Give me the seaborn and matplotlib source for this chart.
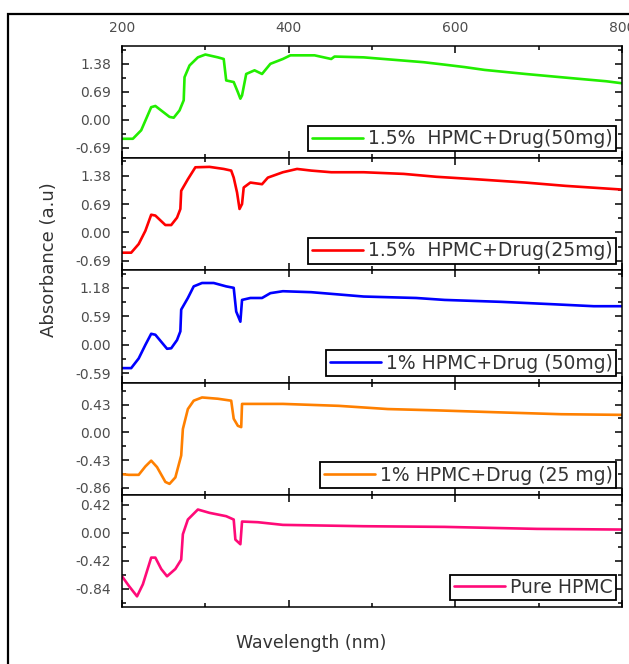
import matplotlib
matplotlib.use('Agg')
import matplotlib.pyplot as plt
import matplotlib.ticker as mticker
from matplotlib.patches import Rectangle
import pandas as pd
import seaborn as sns

# 1.5% HPMC + Drug (50 mg)
wl_a = [200, 213, 223, 235, 240, 257, 262, 269, 274, 275, 281, 291, 300, 315, 322, 325, 334, 339,
        342, 344, 349, 359, 368, 378, 393, 402, 431, 451, 455, 490, 514, 538, 562, 587, 611, 635,
        684, 732, 781, 800]
ab_a = [-0.47, -0.47, -0.26, 0.31, 0.34, 0.07, 0.05, 0.23, 0.48, 1.05, 1.34, 1.54, 1.61, 1.54, 1.50,
        0.97, 0.93, 0.68, 0.52, 0.60, 1.13, 1.22, 1.13, 1.38, 1.50, 1.59, 1.59, 1.50, 1.56, 1.54,
        1.50, 1.46, 1.42, 1.36, 1.30, 1.23, 1.13, 1.04, 0.95, 0.90]

# 1.5% HPMC + Drug (25 mg)
wl_b = [200, 211, 220, 228, 235, 240, 252, 259, 266, 270, 271, 279, 288, 305, 322, 331, 334, 338,
        341, 344, 346, 354, 368, 375, 393, 410, 427, 451, 490, 538, 577, 625, 684, 732, 800]
ab_b = [-0.49, -0.49, -0.28, 0.04, 0.43, 0.41, 0.18, 0.18, 0.36, 0.57, 1.01, 1.29, 1.58, 1.59,
        1.54, 1.50, 1.33, 0.97, 0.57, 0.69, 1.09, 1.21, 1.17, 1.33, 1.46, 1.54, 1.50, 1.46, 1.46,
        1.42, 1.35, 1.29, 1.21, 1.13, 1.04]

# 1% HPMC + Drug (50 mg)
wl_c = [200, 211, 220, 228, 235, 240, 254, 259, 266, 270, 271, 279, 286, 296, 310, 325, 334, 337,
        342, 344, 354, 368, 378, 393, 427, 490, 553, 587, 655, 718, 766, 800]
ab_c = [-0.48, -0.48, -0.28, 0.00, 0.23, 0.21, -0.08, -0.07, 0.10, 0.28, 0.73, 0.97, 1.21, 1.28,
        1.28, 1.21, 1.18, 0.69, 0.48, 0.93, 0.97, 0.97, 1.07, 1.11, 1.09, 1.00, 0.97, 0.93, 0.89,
        0.84, 0.80, 0.80]

# 1% HPMC + Drug (25 mg)
wl_d = [200, 208, 220, 228, 235, 242, 252, 257, 264, 271, 273, 279, 286, 296, 315, 331, 334, 339,
        343, 344, 393, 460, 519, 577, 650, 727, 800]
ab_d = [-0.65, -0.66, -0.66, -0.53, -0.44, -0.54, -0.77, -0.80, -0.70, -0.36, 0.05, 0.36, 0.49,
        0.54, 0.52, 0.49, 0.21, 0.10, 0.08, 0.44, 0.44, 0.41, 0.36, 0.34, 0.31, 0.28, 0.27]

# Pure HPMC
wl_e = [200, 208, 218, 225, 235, 240, 247, 254, 264, 271, 273, 279, 291, 305, 325, 334, 336, 342,
        344, 363, 393, 490, 587, 698, 800]
ab_e = [-0.65, -0.79, -0.95, -0.77, -0.37, -0.37, -0.54, -0.65, -0.54, -0.40, -0.02, 0.20, 0.35,
        0.30, 0.25, 0.20, -0.10, -0.17, 0.17, 0.16, 0.12, 0.10, 0.09, 0.06, 0.05]

labels = ['1.5%  HPMC+Drug(50mg)', '1.5%  HPMC+Drug(25mg)', '1% HPMC+Drug (50mg)',
          '1% HPMC+Drug (25 mg)', 'Pure HPMC']
colors = ['#22ee00', '#ff0000', '#0000ff', '#ff8000', '#ff0a78']
ylims = [(-0.95, 1.82), (-0.92, 1.80), (-0.78, 1.54), (-0.97, 0.77), (-1.11, 0.57)]
ysteps = [0.69, 0.69, 0.59, 0.43, 0.42]
x_ticks = [200, 400, 600, 800]

sns.set_theme(style='ticks')
plt.rcParams['font.family'] = ['DejaVu Sans']

series = [(wl_a, ab_a), (wl_b, ab_b), (wl_c, ab_c), (wl_d, ab_d), (wl_e, ab_e)]

fig, axes = plt.subplots(5, 1, sharex=True, figsize=(6.29, 6.64), dpi=100)
fig.subplots_adjust(left=0.194, right=0.989, top=0.9307, bottom=0.0858, hspace=0)

for i, ax in enumerate(axes):
    wl, ab = series[i]
    df = pd.DataFrame({'Wavelength': wl, 'Absorbance': ab})
    sns.lineplot(data=df, x='Wavelength', y='Absorbance', color=colors[i], lw=1.9,
                 estimator=None, label=labels[i], ax=ax)
    ax.set_xlim(200, 800)
    ax.set_ylim(*ylims[i])
    ax.set_xlabel('')
    ax.set_ylabel('')
    ax.xaxis.set_major_locator(mticker.FixedLocator(x_ticks))
    ax.xaxis.set_minor_locator(mticker.MultipleLocator(100))
    ax.yaxis.set_major_locator(mticker.MultipleLocator(ysteps[i]))
    ax.yaxis.set_minor_locator(mticker.MultipleLocator(ysteps[i] / 2))
    ax.yaxis.set_major_formatter(mticker.FormatStrFormatter('%.2f'))
    ax.tick_params(which='both', direction='in', top=True, right=True, width=1.1,
                   labelsize=10, labelcolor='#4d4d4d', color='black')
    ax.tick_params(which='major', length=5)
    ax.tick_params(which='minor', length=3)
    ax.tick_params(axis='y', pad=8)
    ax.tick_params(axis='x', labelbottom=False, labeltop=(i == 0), pad=8)
    for s in ax.spines.values():
        s.set_linewidth(1.1)
        s.set_color('black')
    leg = ax.legend(loc='lower right', bbox_to_anchor=(0.988, 0.06), borderaxespad=0,
                    frameon=True, fancybox=False, edgecolor='black', framealpha=1,
                    fontsize=13.5, handlelength=2.75, handletextpad=0.25, borderpad=0.18,
                    labelcolor='#333333')
    leg.get_frame().set_linewidth(1.3)

fig.text(311 / 629, 1 - 643 / 664, 'Wavelength (nm)', ha='center', va='center',
         fontsize=12.5, color='#333333')
fig.text(49 / 629, 1 - 260 / 664, 'Absorbance (a.u)', rotation=90, ha='center',
         va='center', fontsize=13, color='#333333')

fig.add_artist(Rectangle((8 / 629, -0.1), 1.2, 1 - 14 / 664 + 0.1, transform=fig.transFigure,
                         fill=False, lw=1.6, ec='black'))

fig.savefig('out.png', dpi=100)
